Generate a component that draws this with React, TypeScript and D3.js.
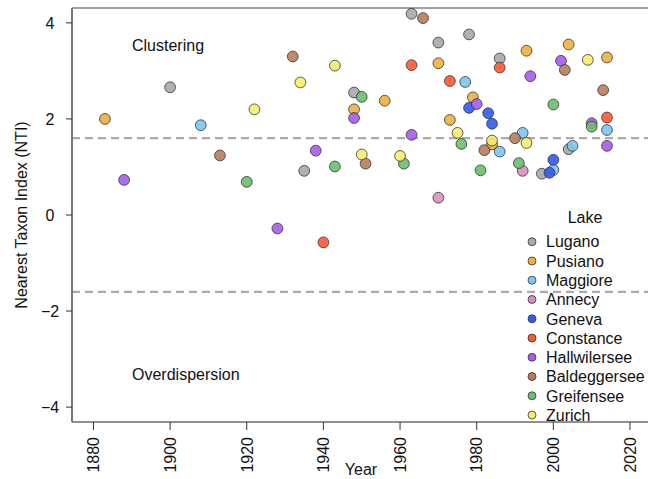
import React from 'react';
import * as d3 from 'd3';

// lakes in legend / drawing order
const lakes = [
  'Lugano', 'Pusiano', 'Maggiore', 'Annecy', 'Geneva',
  'Constance', 'Hallwilersee', 'Baldeggersee', 'Greifensee', 'Zurich'
];

// [year, NTI] per lake
const lugano = [[1900, 2.66], [1935, 0.92], [1948, 2.55], [1963, 4.19], [1970, 3.59], [1978, 3.76], [1986, 3.26], [1997, 0.86], [2004, 1.37]];
const pusiano = [[1883, 2.0], [1948, 2.2], [1956, 2.38], [1970, 3.16], [1973, 1.98], [1979, 2.45], [1984, 1.47], [1993, 3.42], [2004, 3.55], [2014, 3.28]];
const maggiore = [[1908, 1.87], [1977, 2.77], [1986, 1.32], [1992, 1.71], [2000, 0.94], [2005, 1.44], [2014, 1.77]];
const annecy = [[1970, 0.36], [1992, 0.92]];
const geneva = [[1978, 2.23], [1983, 2.12], [1984, 1.9], [1999, 0.88], [2000, 1.15]];
const constance = [[1940, -0.57], [1963, 3.12], [1973, 2.79], [1986, 3.07], [2014, 2.03]];
const hallwilersee = [[1888, 0.73], [1928, -0.28], [1938, 1.34], [1948, 2.02], [1963, 1.67], [1980, 2.31], [1994, 2.89], [2002, 3.21], [2010, 1.91], [2014, 1.44]];
const baldeggersee = [[1913, 1.24], [1932, 3.3], [1951, 1.07], [1966, 4.1], [1982, 1.35], [1990, 1.6], [2003, 3.02], [2013, 2.6]];
const greifensee = [[1920, 0.69], [1943, 1.01], [1950, 2.46], [1961, 1.07], [1976, 1.48], [1981, 0.93], [1991, 1.08], [2000, 2.3], [2010, 1.84]];
const zurich = [[1922, 2.2], [1934, 2.76], [1943, 3.11], [1950, 1.26], [1960, 1.23], [1975, 1.71], [1984, 1.55], [1993, 1.5], [2009, 3.23]];

const seriesValues = [lugano, pusiano, maggiore, annecy, geneva, constance, hallwilersee, baldeggersee, greifensee, zurich];

const xTicks = [1880, 1900, 1920, 1940, 1960, 1980, 2000, 2020];
const yTicks = [-4, -2, 0, 2, 4];
const thresholds = [1.6, -1.6];

const lakeColors = [
  '#a9a9a9', '#eeb03f', '#7cc6f0', '#d98fbd', '#2f5cf5',
  '#ff5733', '#a65cf0', '#b97d5a', '#6bbf6e', '#f7ec6c'
];

const W = 648;
const H = 479;
const left = 72, top = 8, bottom = 422, right = 648;
const font = '"Liberation Sans", Arial, Helvetica, sans-serif';

const App = () => {
  const x = d3.scaleLinear().domain([1874.4, 2024.7]).range([left, right]);
  const y = d3.scaleLinear().domain([-4.31, 4.31]).range([bottom, top]);
  const color = d3.scaleOrdinal<string, string>().domain(lakes).range(lakeColors);

  return (
    <svg width={W} height={H} style={{ position: 'absolute', left: 0, top: 0 }} fontFamily={font}>
      <rect width={W} height={H} fill="white" />

      {/* threshold lines */}
      {thresholds.map((t) => (
        <line key={t} x1={left} x2={right} y1={y(t)} y2={y(t)}
          stroke="#aaaaaa" strokeWidth={2.2} strokeDasharray="8,5" />
      ))}

      {/* frame */}
      <line x1={left} x2={right} y1={top} y2={top} stroke="#444" strokeWidth={1.2} />
      <line x1={left} x2={right} y1={bottom} y2={bottom} stroke="#222" strokeWidth={1.2} />
      <line x1={left} x2={left} y1={top} y2={bottom} stroke="#777" strokeWidth={2} />

      {/* y axis */}
      {yTicks.map((t) => (
        <g key={t}>
          <line x1={left - 6} x2={left} y1={y(t)} y2={y(t)} stroke="#333" />
          <text x={50} y={y(t)} dy="0.36em" textAnchor="middle" fontSize={16} fill="#111">
            {t < 0 ? '\u2212' + Math.abs(t) : t}
          </text>
        </g>
      ))}
      <text transform={`translate(27,215) rotate(-90)`} textAnchor="middle" fontSize={16} fill="#111">
        Nearest Taxon Index (NTI)
      </text>

      {/* x axis */}
      {xTicks.map((t) => (
        <g key={t}>
          <line x1={x(t)} x2={x(t)} y1={bottom} y2={bottom + 8} stroke="#333" />
          <text transform={`translate(${x(t)},437) rotate(-90)`} dy="0.36em" textAnchor="end" fontSize={16} fill="#111">
            {t}
          </text>
        </g>
      ))}
      <text x={361} y={475} textAnchor="middle" fontSize={16} fill="#111">Year</text>

      {/* annotations */}
      <text x={132} y={51} fontSize={16} fill="#111">Clustering</text>
      <text x={132} y={380} fontSize={16} fill="#111">Overdispersion</text>

      {/* points */}
      {seriesValues.map((pts, i) => (
        <g key={lakes[i]}>
          {pts.map(([yr, v], j) => (
            <circle key={j} cx={x(yr)} cy={y(v)} r={5.4}
              fill={color(lakes[i])} fillOpacity={0.9} stroke="#333" strokeWidth={0.8} />
          ))}
        </g>
      ))}

      {/* legend */}
      <text x={585} y={217} dy="0.36em" textAnchor="middle" fontSize={16} fill="#111">Lake</text>
      {lakes.map((l, i) => (
        <g key={l} transform={`translate(532,${241.7 + i * 19.26})`}>
          <circle r={4} fill={color(l)} stroke="#333" strokeWidth={0.8} />
          <text x={14} dy="0.36em" fontSize={16} fill="#111">{l}</text>
        </g>
      ))}
    </svg>
  );
};

export default App;
